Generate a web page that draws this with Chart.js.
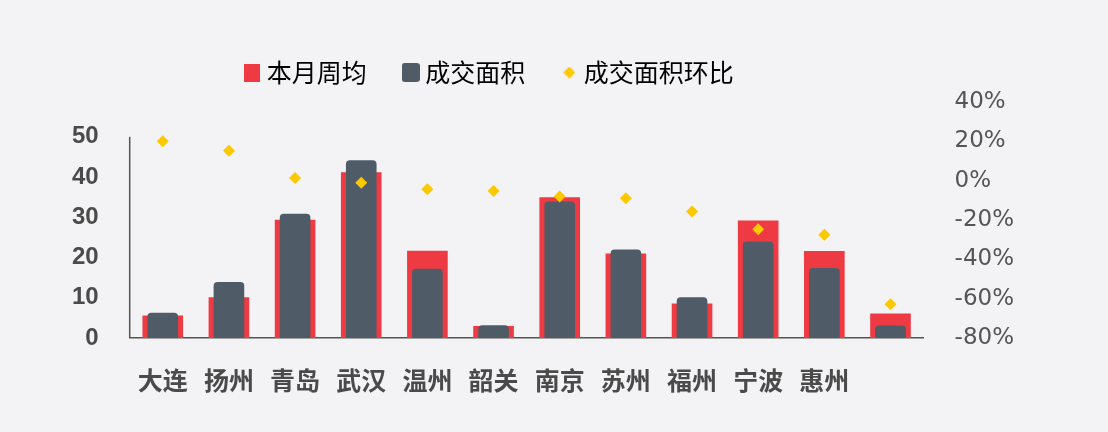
<!DOCTYPE html>
<html>
<head>
<meta charset="utf-8">
<script src="https://cdn.jsdelivr.net/npm/chart.js@4"></script>
<style>
  html, body { margin: 0; padding: 0; background: #f3f2f4; }
  #wrap { width: 1108px; height: 432px; }
</style>
</head>
<body>
<div id="wrap"><canvas id="chart" width="1108" height="432"></canvas></div>
<script>
// data (last column has no visible label)
const cities = ['大连', '扬州', '青岛', '武汉', '温州', '韶关', '南京', '苏州', '福州', '宁波', '惠州', ''];
const weeklyAvg = [5.6, 10.1, 29.4, 41.2, 21.7, 3.0, 35.0, 21.0, 8.6, 29.2, 21.6, 6.1];
const dealArea = [6.3, 13.9, 30.9, 44.2, 17.2, 3.2, 33.9, 22.0, 10.1, 24.0, 17.4, 3.1];
const dealChange = [20.1, 15.2, 1.3, -1.0, -4.4, -5.2, -8.1, -9.0, -15.7, -24.7, -27.5, -62.9];
const leftTicks = [0, 10, 20, 30, 40, 50];
const rightTicks = [-80, -60, -40, -20, 0, 20, 40];
const seriesNames = ['本月周均', '成交面积', '成交面积环比'];

const RED = '#ee3a43';
const DARK = '#4f5b66';
const GOLD = '#fcc800';
const AXIS = '#555555';
const TEXT = '#4a4a4a';

function legendMark(w, h, paint) {
    const c = document.createElement('canvas');
    c.width = w;
    c.height = h;
    paint(c.getContext('2d'), w, h);
    return c;
}

const marks = [
    legendMark(16, 18, (g, w, h) => { g.fillStyle = RED; g.fillRect(0, 0, w, h); }),
    legendMark(18, 19, (g, w, h) => {
        g.fillStyle = DARK;
        g.beginPath();
        g.roundRect(0, 0, w, h, 3);
        g.fill();
    }),
    legendMark(12, 12, (g, w, h) => {
        g.fillStyle = GOLD;
        g.beginPath();
        g.moveTo(w / 2, 0);
        g.lineTo(w, h / 2);
        g.lineTo(w / 2, h);
        g.lineTo(0, h / 2);
        g.closePath();
        g.fill();
    }),
];

// left axis line only runs from 0 to 50
const leftAxisLine = {
    id: 'leftAxisLine',
    beforeDatasetsDraw(chart) {
        const y = chart.scales.y;
        const x = chart.chartArea.left;
        const ctx = chart.ctx;
        ctx.save();
        ctx.strokeStyle = AXIS;
        ctx.lineWidth = 1.5;
        ctx.beginPath();
        ctx.moveTo(x, y.getPixelForValue(0));
        ctx.lineTo(x, y.getPixelForValue(50));
        ctx.stroke();
        ctx.restore();
    }
};

// legend sits left of the canvas centre and a bit lower than its box
const legendPlace = {
    id: 'legendPlace',
    afterLayout(chart) {
        const lg = chart.legend;
        const dx = 492 - (lg.left + lg.right) / 2;
        lg.left += dx;
        lg.right += dx;
        const h = lg.bottom - lg.top;
        lg.top = 18;
        lg.bottom = 18 + h;
    }
};

new Chart(document.getElementById('chart'), {
    data: {
        labels: cities,
        datasets: [
            {
                type: 'bar',
                label: seriesNames[0],
                data: weeklyAvg,
                backgroundColor: RED,
                grouped: false,
                barPercentage: 0.614,
                categoryPercentage: 1,
                order: 2,
                yAxisID: 'y',
            },
            {
                type: 'bar',
                label: seriesNames[1],
                data: dealArea,
                backgroundColor: DARK,
                grouped: false,
                barPercentage: 0.463,
                categoryPercentage: 1,
                borderRadius: 4,
                borderSkipped: 'start',
                order: 1,
                yAxisID: 'y',
            },
            {
                type: 'line',
                label: seriesNames[2],
                data: dealChange,
                showLine: false,
                pointStyle: 'rectRot',
                pointRadius: 6,
                pointBorderWidth: 0,
                pointBackgroundColor: GOLD,
                backgroundColor: GOLD,
                order: 0,
                yAxisID: 'y1',
            },
        ],
    },
    options: {
        responsive: false,
        animation: false,
        events: [],
        layout: { padding: { top: 25, left: 41, right: 63, bottom: 10 } },
        plugins: {
            tooltip: { enabled: false },
            legend: {
                position: 'top',
                labels: {
                    usePointStyle: true,
                    boxWidth: 4,
                    padding: 42,
                    color: '#555555',
                    font: { family: '"Noto Sans CJK SC"', size: 25 },
                    generateLabels: (chart) => chart.data.datasets.map((ds, i) => ({
                        text: ds.label,
                        pointStyle: marks[i],
                        fillStyle: 'transparent',
                        strokeStyle: 'transparent',
                        lineWidth: 0,
                        hidden: false,
                        datasetIndex: i,
                    })),
                },
            },
        },
        scales: {
            x: {
                offset: true,
                grid: { display: false, drawTicks: false },
                border: { color: AXIS, width: 1.5 },
                ticks: {
                    color: TEXT,
                    padding: 27,
                    autoSkip: false,
                    maxRotation: 0,
                    font: { family: '"Noto Sans CJK SC"', size: 25, weight: 'bold' },
                },
            },
            y: {
                position: 'left',
                min: 0,
                max: 58.66,
                afterBuildTicks: (scale) => { scale.ticks = leftTicks.map(v => ({ value: v })); },
                grid: { display: false, drawTicks: false },
                border: { display: false },
                ticks: {
                    color: TEXT,
                    padding: 31,
                    font: { family: '"Liberation Sans"', size: 24, weight: 'bold' },
                },
            },
            y1: {
                position: 'right',
                min: -80,
                max: 40,
                afterBuildTicks: (scale) => { scale.ticks = rightTicks.map(v => ({ value: v })); },
                grid: { display: false, drawTicks: false },
                border: { display: false },
                ticks: {
                    color: '#555555',
                    padding: 31,
                    font: { family: '"DejaVu Sans"', size: 23 },
                    callback: (v) => v + '%',
                },
            },
        },
    },
    plugins: [leftAxisLine, legendPlace],
});
</script>
</body>
</html>
